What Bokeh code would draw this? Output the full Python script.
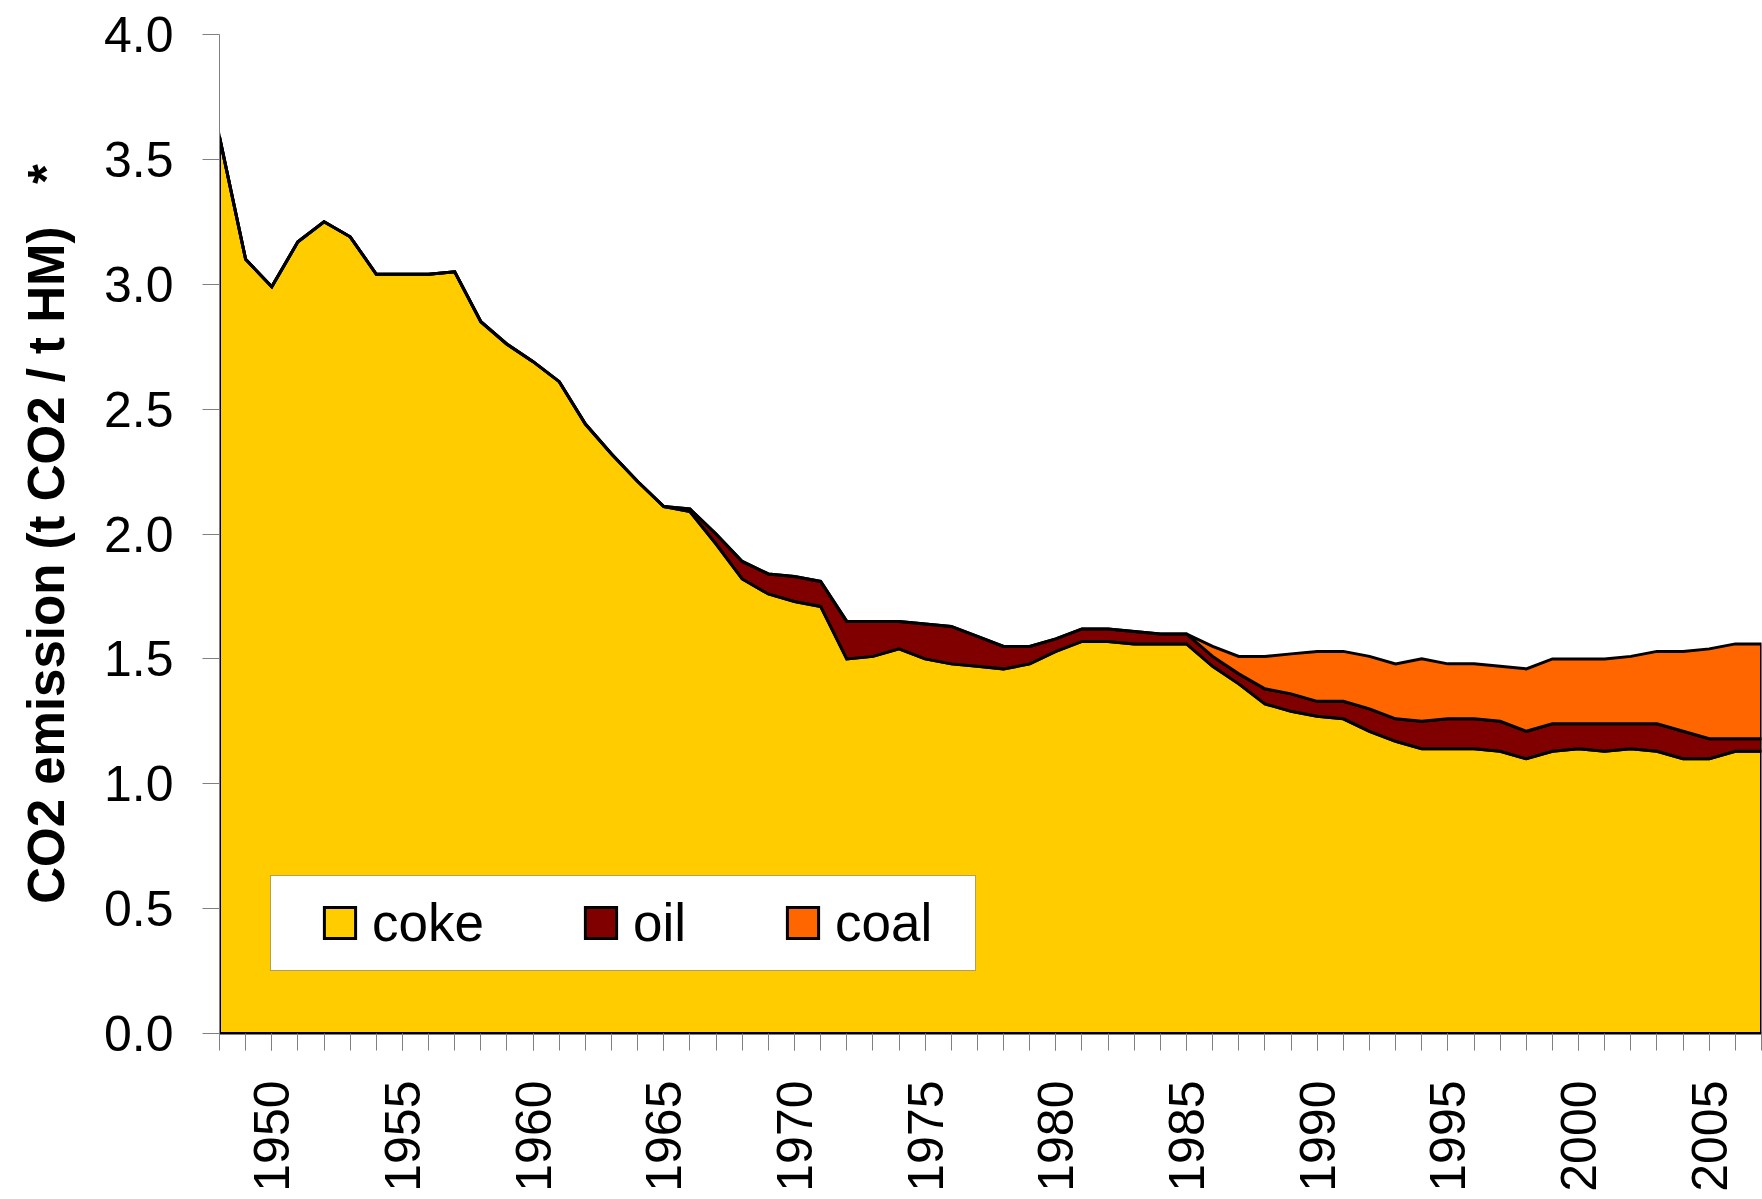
import math
import numpy as np
from bokeh.plotting import figure
from bokeh.models import (Range1d, FixedTicker, PrintfTickFormatter, Legend,
                          LegendItem, BoxAnnotation)
from bokeh.embed import file_html
from bokeh.resources import INLINE

# ---- data: specific CO2 emission per tonne of hot metal, by reductant ----
years = list(range(1948, 2008))

coke = [3.59, 3.10, 2.99, 3.17, 3.25, 3.19, 3.04, 3.04, 3.04, 3.05,
        2.85, 2.76, 2.69, 2.61, 2.44, 2.32, 2.21, 2.11, 2.09, 1.96,
        1.82, 1.76, 1.73, 1.71, 1.50, 1.51, 1.54, 1.50, 1.48, 1.47,
        1.46, 1.48, 1.53, 1.57, 1.57, 1.56, 1.56, 1.56, 1.47, 1.40,
        1.32, 1.29, 1.27, 1.26, 1.21, 1.17, 1.14, 1.14, 1.14, 1.13,
        1.10, 1.13, 1.14, 1.13, 1.14, 1.13, 1.10, 1.10, 1.13, 1.13]

oil = [0.00, 0.00, 0.00, 0.00, 0.00, 0.00, 0.00, 0.00, 0.00, 0.00,
       0.00, 0.00, 0.00, 0.00, 0.00, 0.00, 0.00, 0.00, 0.01, 0.04,
       0.07, 0.08, 0.10, 0.10, 0.15, 0.14, 0.11, 0.14, 0.15, 0.12,
       0.09, 0.07, 0.05, 0.05, 0.05, 0.05, 0.04, 0.04, 0.04, 0.04,
       0.06, 0.07, 0.06, 0.07, 0.09, 0.09, 0.11, 0.12, 0.12, 0.12,
       0.11, 0.11, 0.10, 0.11, 0.10, 0.11, 0.11, 0.08, 0.05, 0.05]

coal = [0.00, 0.00, 0.00, 0.00, 0.00, 0.00, 0.00, 0.00, 0.00, 0.00,
        0.00, 0.00, 0.00, 0.00, 0.00, 0.00, 0.00, 0.00, 0.00, 0.00,
        0.00, 0.00, 0.00, 0.00, 0.00, 0.00, 0.00, 0.00, 0.00, 0.00,
        0.00, 0.00, 0.00, 0.00, 0.00, 0.00, 0.00, 0.00, 0.04, 0.07,
        0.13, 0.16, 0.20, 0.20, 0.21, 0.22, 0.25, 0.22, 0.22, 0.22,
        0.25, 0.26, 0.26, 0.26, 0.27, 0.29, 0.32, 0.36, 0.38, 0.38]

series_names = ["coke", "oil", "coal"]
series_values = [coke, oil, coal]
series_colors = ["#FFCC00", "#800000", "#FF6600"]

x_label_years = [1950, 1955, 1960, 1965, 1970, 1975,
                 1980, 1985, 1990, 1995, 2000, 2005]
y_ticks = [0.0, 0.5, 1.0, 1.5, 2.0, 2.5, 3.0, 3.5, 4.0]

FONT = "Liberation Sans"
GREY = "#808080"

p = figure(width=1762, height=1199,
           x_range=Range1d(years[0], years[-1]), y_range=Range1d(0, 4),
           output_backend="svg", toolbar_location=None,
           min_border_left=219, min_border_right=1,
           min_border_top=34, min_border_bottom=166)
p.outline_line_color = None
p.grid.visible = False
p.background_fill_color = "white"
p.border_fill_color = "white"

# ---- stacked areas, each outlined in black ----
bottom = np.zeros(len(years))
renderers = []
for name, vals, color in zip(series_names, series_values, series_colors):
    top = bottom + np.asarray(vals)
    xs = years + years[::-1]
    ys = list(top) + list(bottom[::-1])
    r = p.patch(xs, ys, fill_color=color, line_color="black",
                line_width=3, line_join="miter")
    renderers.append(r)
    bottom = top

# ---- x axis: a tick every year, a label every five years ----
xa = p.xaxis[0]
xa.ticker = FixedTicker(ticks=x_label_years, minor_ticks=years)
xa.major_label_orientation = math.pi / 2
xa.major_label_text_font = FONT
xa.major_label_text_font_size = "50px"
xa.major_label_text_color = "black"
xa.major_label_standoff = 30
xa.major_tick_in = 0
xa.major_tick_out = 17
xa.minor_tick_in = 0
xa.minor_tick_out = 17
xa.major_tick_line_color = GREY
xa.minor_tick_line_color = GREY
xa.axis_line_color = "black"
xa.axis_line_width = 2

# ---- y axis ----
ya = p.yaxis[0]
ya.ticker = FixedTicker(ticks=y_ticks, minor_ticks=[])
ya.formatter = PrintfTickFormatter(format="%.1f")
ya.major_label_text_font = FONT
ya.major_label_text_font_size = "50px"
ya.major_label_text_color = "black"
ya.major_label_standoff = 29
ya.major_tick_in = 0
ya.major_tick_out = 17
ya.major_tick_line_color = GREY
ya.axis_line_color = GREY
ya.axis_line_width = 1
ya.axis_label = "CO2 emission (t CO2 / t HM)\u00a0\u00a0\u00a0*"
ya.axis_label_text_font = FONT
ya.axis_label_text_font_style = "bold"
ya.axis_label_text_font_size = "51px"
ya.axis_label_text_color = "black"
ya.axis_label_standoff = 26

# ---- legend: white framed box with three horizontal entries ----
legend_box = BoxAnnotation(left=51, right=756, bottom=63, top=158,
                           left_units="screen", right_units="screen",
                           bottom_units="screen", top_units="screen",
                           fill_color="white", fill_alpha=1.0,
                           line_color="black", line_width=1)
p.add_layout(legend_box)

legend = Legend(items=[LegendItem(label=n, renderers=[r])
                       for n, r in zip(series_names, renderers)],
                orientation="horizontal", location=(101, 79),
                padding=0, margin=0, spacing=97,
                glyph_width=39, glyph_height=39,
                label_height=64, label_standoff=13,
                label_text_font=FONT, label_text_font_size="53px",
                label_text_color="black",
                border_line_alpha=0, background_fill_alpha=0)
p.add_layout(legend)

open("out.html", "w").write(file_html(p, INLINE))
